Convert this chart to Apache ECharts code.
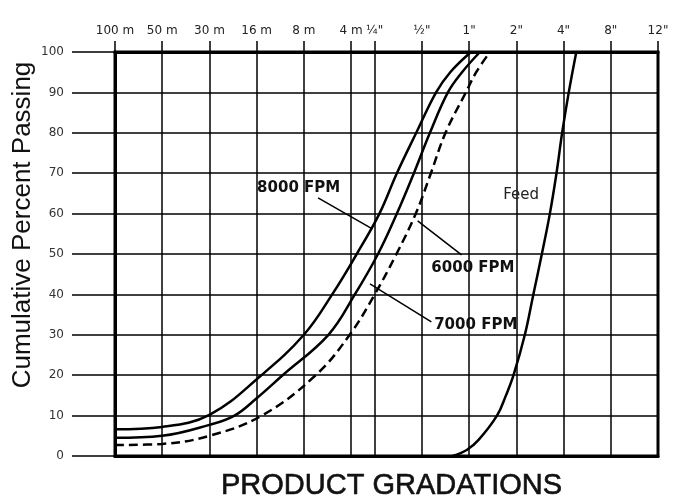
<!DOCTYPE html>
<html>
<head>
<meta charset="utf-8">
<script src="https://cdn.jsdelivr.net/npm/echarts@6.0.0/dist/echarts.min.js"></script>
<style>
  html, body { margin: 0; padding: 0; background: #fff; }
  #chart { width: 676px; height: 503px; }
</style>
</head>
<body>
<div id="chart"></div>
<script>
// Sieve-size scale: positions along the x axis (log2 steps of opening size)
const sizeLabels = ['100 m', '50 m', '30 m', '16 m', '8 m', '4 m', '¼"', '½"', '1"', '2"', '4"', '8"', '12"'];
const sizePos = [0, 1, 2, 3, 4, 5, 5.5, 6.5, 7.5, 8.5, 9.5, 10.5, 11.5];

// Cumulative percent passing curves: [size position, percent]
const fpm8000 = [[0, 6.6], [1, 7.2], [2, 10.2], [3.1, 20], [4, 30], [4.6, 40], [5.12, 50], [5.6, 60], [5.97, 70], [6.38, 80], [6.8, 90], [7.1, 95], [7.54, 100]];
const fpm7000 = [[0, 4.5], [1, 5.0], [2, 7.7], [2.53, 10], [3, 14.3], [3.55, 20], [4.52, 30], [5.08, 40], [5.57, 50], [5.97, 60], [6.33, 70], [6.67, 80], [7.05, 90], [7.35, 95], [7.73, 100]];
const fpm6000 = [[0, 2.7], [1, 3.0], [2, 5.0], [3.11, 10], [4.25, 20], [4.97, 30], [5.5, 40], [5.96, 50], [6.37, 60], [6.69, 70], [7.0, 80], [7.43, 90], [7.65, 95], [7.94, 100]];
const feed = [[7.15, 0], [7.45, 1.5], [7.7, 4], [8.09, 10], [8.28, 15], [8.44, 20], [8.68, 30], [8.86, 40], [9.04, 50], [9.21, 60], [9.35, 70], [9.47, 80], [9.61, 90], [9.77, 100]];

const chart = echarts.init(document.getElementById('chart'), null, { renderer: 'canvas' });

function labelFor(v) {
  for (let i = 0; i < sizePos.length; i++) {
    if (Math.abs(sizePos[i] - v) < 1e-6) return sizeLabels[i];
  }
  return '';
}

const annFont = { fontFamily: 'DejaVu Sans', fontSize: 15, fontWeight: 'bold', color: '#111' };
const leader = { color: '#000', width: 1.5, type: 'solid' };

function curve(name, data, dashed, ann) {
  return {
    name: name,
    type: 'line',
    data: data,
    smooth: 0.4,
    symbol: 'none',
    clip: true,
    lineStyle: { color: '#000', width: 2.5, type: dashed ? [9, 5] : 'solid' },
    z: 5,
    markLine: ann.line ? {
      silent: true,
      symbol: ['none', 'none'],
      lineStyle: leader,
      label: { show: false },
      data: [[{ coord: ann.line[0] }, { coord: ann.line[1] }]]
    } : undefined,
    markPoint: {
      silent: true,
      symbol: 'circle',
      symbolSize: 0,
      data: [{
        coord: ann.text,
        label: Object.assign({ show: true, position: 'inside', formatter: ann.label }, ann.font || annFont)
      }]
    }
  };
}

const option = {
  backgroundColor: '#fff',
  animation: false,
  grid: { left: 115, right: 18, top: 52, bottom: 47, show: true, borderColor: '#000', borderWidth: 3, backgroundColor: 'transparent' },
  xAxis: [
    {
      type: 'value', position: 'bottom', min: 0, max: 11.5, interval: 0.5,
      axisLine: { show: true, lineStyle: { color: '#000', width: 3 } },
      axisTick: { show: false }, axisLabel: { show: false }, splitLine: { show: false }
    },
    {
      type: 'value', position: 'top', min: 0, max: 11.5, interval: 0.5,
      axisLine: { show: true, lineStyle: { color: '#000', width: 3 } },
      axisTick: { show: true, customValues: sizePos, length: 11, lineStyle: { color: '#000', width: 1.5 } },
      axisLabel: { show: true, customValues: sizePos, formatter: labelFor, margin: 15, fontFamily: 'DejaVu Sans', fontSize: 12, color: '#222' },
      splitLine: { show: true, customValues: sizePos, lineStyle: { color: '#000', width: 1.5 } }
    }
  ],
  yAxis: {
    type: 'value', min: 0, max: 100, interval: 10,
    axisLine: { show: true, lineStyle: { color: '#000', width: 3 } },
    axisTick: { show: true, length: 43, lineStyle: { color: '#000', width: 1.5 } },
    axisLabel: { margin: 51, fontFamily: 'DejaVu Sans', fontSize: 12, color: '#333' },
    splitLine: { show: true, lineStyle: { color: '#000', width: 1.5 } }
  },
  title: {
    text: 'PRODUCT GRADATIONS',
    left: 216, top: 466,
    textStyle: { fontFamily: 'Liberation Sans', fontSize: 29, fontWeight: 'normal', color: '#111', textBorderColor: '#111', textBorderWidth: 0.6 }
  },
  graphic: [{
    type: 'text',
    x: 23, y: 225,
    rotation: Math.PI / 2,
    style: { text: 'Cumulative Percent Passing', font: '26px "Liberation Sans"', fill: '#111', textAlign: 'center', textVerticalAlign: 'middle' }
  }],
  series: [
    curve('8000 FPM', fpm8000, false, { label: '8000 FPM', text: [3.89, 66.3], line: [[4.30, 63.9], [5.45, 56.2]] }),
    curve('7000 FPM', fpm7000, false, { label: '7000 FPM', text: [7.64, 32.4], line: [[6.70, 33.2], [5.40, 42.6]] }),
    curve('6000 FPM', fpm6000, true, { label: '6000 FPM', text: [7.58, 46.5], line: [[7.34, 49.8], [6.41, 58.2]] }),
    curve('Feed', feed, false, { label: 'Feed', text: [8.60, 64.6], font: { fontFamily: 'DejaVu Sans', fontSize: 15, fontWeight: 'normal', color: '#222' } })
  ]
};

chart.setOption(option);
</script>
</body>
</html>
